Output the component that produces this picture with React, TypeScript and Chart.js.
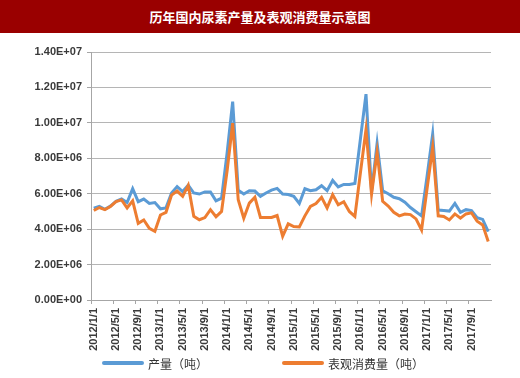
import React, { useEffect, useRef } from 'react';
import { Chart, registerables } from 'chart.js';

Chart.register(...registerables);

const TITLE = '历年国内尿素产量及表观消费量示意图';
const SERIES_NAMES = ['产量（吨）', '表观消费量（吨）'];
const SERIES_COLORS = ['#5b9bd5', '#ed7d31'];

const categories = [
  '2012/1/1', '2012/2/1', '2012/3/1', '2012/4/1', '2012/5/1', '2012/6/1', '2012/7/1', '2012/8/1', '2012/9/1', '2012/10/1', '2012/11/1', '2012/12/1',
  '2013/1/1', '2013/2/1', '2013/3/1', '2013/4/1', '2013/5/1', '2013/6/1', '2013/7/1', '2013/8/1', '2013/9/1', '2013/10/1', '2013/11/1', '2013/12/1',
  '2014/1/1', '2014/2/1', '2014/3/1', '2014/4/1', '2014/5/1', '2014/6/1', '2014/7/1', '2014/8/1', '2014/9/1', '2014/10/1', '2014/11/1', '2014/12/1',
  '2015/1/1', '2015/2/1', '2015/3/1', '2015/4/1', '2015/5/1', '2015/6/1', '2015/7/1', '2015/8/1', '2015/9/1', '2015/10/1', '2015/11/1', '2015/12/1',
  '2016/1/1', '2016/2/1', '2016/3/1', '2016/4/1', '2016/5/1', '2016/6/1', '2016/7/1', '2016/8/1', '2016/9/1', '2016/10/1', '2016/11/1', '2016/12/1',
  '2017/1/1', '2017/2/1', '2017/3/1', '2017/4/1', '2017/5/1', '2017/6/1', '2017/7/1', '2017/8/1', '2017/9/1', '2017/10/1', '2017/11/1', '2017/12/1',
];

const production = [
  5180000, 5280000, 5120000, 5300000, 5570000, 5700000, 5500000, 6280000, 5550000, 5700000, 5450000, 5500000,
  5150000, 5200000, 6040000, 6400000, 6120000, 6480000, 6040000, 5980000, 6100000, 6100000, 5600000, 5750000,
  8300000, 11200000, 6200000, 5980000, 6170000, 6150000, 5850000, 6040000, 6200000, 6300000, 5980000, 5950000,
  5850000, 5450000, 6280000, 6170000, 6220000, 6450000, 6170000, 6750000, 6380000, 6520000, 6520000, 6580000,
  9100000, 11620000, 6100000, 8850000, 6170000, 6000000, 5800000, 5720000, 5520000, 5220000, 4980000, 4750000,
  7000000, 9360000, 5080000, 5050000, 5020000, 5450000, 4950000, 5100000, 5050000, 4650000, 4550000, 3860000,
];

const consumption = [
  5050000, 5220000, 5100000, 5280000, 5550000, 5650000, 5200000, 5600000, 4330000, 4520000, 4050000, 3880000,
  4800000, 4950000, 5920000, 6150000, 5850000, 6470000, 4720000, 4530000, 4650000, 5100000, 4700000, 5000000,
  7300000, 9980000, 5660000, 4620000, 5470000, 5800000, 4660000, 4660000, 4660000, 4770000, 3600000, 4300000,
  4150000, 4120000, 4750000, 5280000, 5450000, 5800000, 5200000, 5940000, 5380000, 5550000, 5000000, 4720000,
  7200000, 9620000, 5980000, 8350000, 5570000, 5300000, 4950000, 4750000, 4850000, 4820000, 4580000, 3950000,
  6300000, 8620000, 4750000, 4720000, 4520000, 4860000, 4620000, 4860000, 4920000, 4450000, 4240000, 3300000,
];

const yTickLabels = ['0.00E+00', '2.00E+06', '4.00E+06', '6.00E+06', '8.00E+06', '1.00E+07', '1.20E+07', '1.40E+07'];
const Y_MAX = 14000000;
const Y_STEP = 2000000;
const LABEL_EVERY = 4;

const AXIS_COLOR = '#a6a6a6';
const GRID_COLOR = '#b5b5b5';
const TEXT_COLOR = '#3a3a3a';
const FONT_FAMILY = "'Liberation Sans', Arial, sans-serif";
const CJK_FONT = "'Noto Sans CJK SC', 'Liberation Sans', sans-serif";

export default function App() {
  const canvasRef = useRef<HTMLCanvasElement>(null);

  useEffect(() => {
    document.body.style.margin = '0';
    const canvas = canvasRef.current;
    if (!canvas) return;
    const chart = new Chart(canvas, {
      type: 'line',
      data: {
        labels: categories,
        datasets: [
          {
            label: SERIES_NAMES[0],
            data: production,
            borderColor: SERIES_COLORS[0],
            backgroundColor: SERIES_COLORS[0],
            borderWidth: 3,
            pointRadius: 0,
            tension: 0,
            order: 1,
          },
          {
            label: SERIES_NAMES[1],
            data: consumption,
            borderColor: SERIES_COLORS[1],
            backgroundColor: SERIES_COLORS[1],
            borderWidth: 3,
            pointRadius: 0,
            tension: 0,
            order: 0,
          },
        ],
      },
      options: {
        animation: false,
        responsive: false,
        maintainAspectRatio: false,
        layout: { padding: { left: 0, right: 29, top: 52, bottom: 0 } },
        plugins: {
          legend: { display: false },
          tooltip: { enabled: false },
          title: { display: false },
        },
        scales: {
          x: {
            offset: true,
            grid: {
              offset: true,
              drawOnChartArea: false,
              drawTicks: true,
              tickLength: 4,
              tickColor: (ctx: any) => (ctx.index % LABEL_EVERY === 0 ? AXIS_COLOR : 'rgba(0,0,0,0)'),
            },
            border: { color: AXIS_COLOR, width: 1 },
            ticks: {
              autoSkip: false,
              maxRotation: 90,
              minRotation: 90,
              padding: 4,
              color: TEXT_COLOR,
              font: { family: FONT_FAMILY, size: 11, weight: 'bold' },
              callback: (_v: any, i: number) => (i % LABEL_EVERY === 0 ? categories[i] : ''),
            },
            afterFit: (s: any) => {
              s.height = 78;
            },
          },
          y: {
            min: 0,
            max: Y_MAX,
            grid: { color: GRID_COLOR, tickLength: 4, tickColor: AXIS_COLOR },
            border: { color: AXIS_COLOR, width: 1 },
            ticks: {
              stepSize: Y_STEP,
              padding: 5,
              color: TEXT_COLOR,
              font: { family: FONT_FAMILY, size: 11, weight: 'bold' },
              callback: (_v: any, i: number) => yTickLabels[i],
            },
            afterFit: (s: any) => {
              s.width = 91;
            },
          },
        },
      },
    });
    return () => chart.destroy();
  }, []);

  const legendLefts = [102, 282];

  return (
    <div style={{ position: 'relative', width: 520, height: 378, background: '#ffffff', overflow: 'hidden' }}>
      <canvas ref={canvasRef} width={520} height={378} style={{ position: 'absolute', left: 0, top: 0, width: 520, height: 378, display: 'block' }} />
      <div
        style={{
          position: 'absolute',
          left: 0,
          top: 0,
          width: 520,
          height: 33,
          background: '#9a0000',
          color: '#ffffff',
          fontFamily: CJK_FONT,
          fontWeight: 'bold',
          fontSize: 13,
          lineHeight: '33px',
          textAlign: 'center',
        }}
      >
        {TITLE}
      </div>
      {SERIES_NAMES.map((name, i) => (
        <div
          key={name}
          style={{
            position: 'absolute',
            left: legendLefts[i],
            top: 354,
            height: 18,
            display: 'flex',
            alignItems: 'center',
            fontFamily: CJK_FONT,
            fontSize: 12,
            color: '#333333',
            whiteSpace: 'nowrap',
          }}
        >
          <span style={{ display: 'inline-block', width: 42, height: 4, background: SERIES_COLORS[i], borderRadius: 2, marginRight: 4 }} />
          <span>{name}</span>
        </div>
      ))}
    </div>
  );
}
